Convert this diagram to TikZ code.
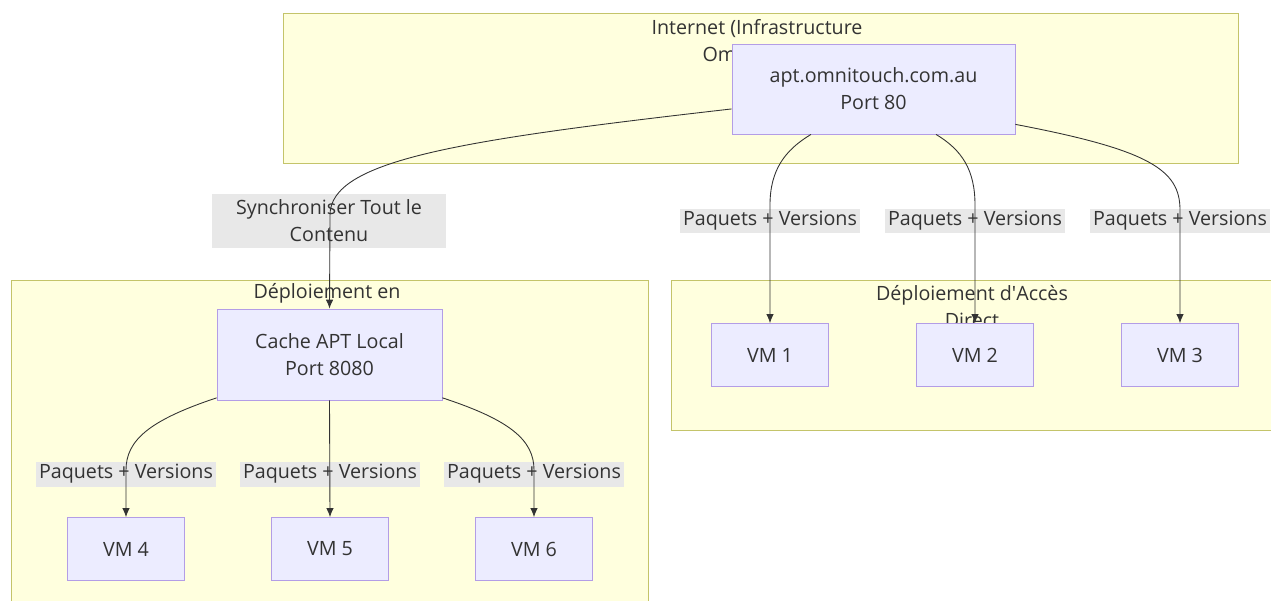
\documentclass[tikz,border=0pt]{standalone}
\usepackage{fontspec}
\setmainfont{Open Sans}
\usetikzlibrary{arrows.meta,positioning}
\tikzset{>={Latex[length=1.8mm,width=1.5mm]}}
\definecolor{clfill}{HTML}{FFFFDE}
\definecolor{clline}{HTML}{C4C46A}
\definecolor{ndfill}{HTML}{ECECFF}
\definecolor{ndline}{HTML}{B39DE6}
\definecolor{txt}{HTML}{333333}
\definecolor{lblfill}{HTML}{E8E8E8}

\begin{document}
\begin{tikzpicture}[x=0.02cm,y=-0.02cm,
    font=\fontsize{11.2}{15.4}\selectfont,text=txt,
    cluster/.style={draw=clline,fill=clfill,line width=0.5pt},
    box/.style={draw=ndline,fill=ndfill,align=center,line width=0.5pt},
    vm/.style={box,minimum width=2.34cm,minimum height=1.26cm},
    lbl/.style={fill=lblfill,inner sep=1.5pt,minimum height=0.5cm,align=center},
    edge/.style={->,draw=txt,line width=0.5pt}]
    \useasboundingbox (0,0) rectangle (1271,601);
    % groups
    \draw [cluster] (283,13) rectangle (1238,163);
    \draw [cluster] (11,280) rectangle (648,615);
    \draw [cluster] (671,280) rectangle (1290,430);
    \node (tnet) at (757,42) [align=center] {Internet (Infrastructure\\Omnitouch)};
    \node (tcache) at (327,293) {Déploiement en};
    \node (tdirect) at (972,307) [align=center] {Déploiement d\textquotesingle Accès\\Direct};
    % edge labels
    \node (lsync) at (329,221) [lbl,minimum width=4.68cm,minimum height=1.1cm] {Synchroniser Tout le\\Contenu};
    \node (l1) at (770,221) [lbl] {Paquets + Versions};
    \node (l2) at (975,221) [lbl] {Paquets + Versions};
    \node (l3) at (1180,221) [lbl] {Paquets + Versions};
    \node (l4) at (126,474) [lbl] {Paquets + Versions};
    \node (l5) at (330,474) [lbl] {Paquets + Versions};
    \node (l6) at (534,474) [lbl] {Paquets + Versions};
    % servers
    \node (apt) at (873.5,89) [box,minimum width=5.66cm,minimum height=1.8cm] {apt.omnitouch.com.au\\Port 80};
    \node (cache) at (329.5,354.5) [box,minimum width=4.5cm,minimum height=1.82cm] {Cache APT Local\\Port 8080};
    \node (vm1) at (770,355) [vm] {VM 1};
    \node (vm2) at (975,355) [vm] {VM 2};
    \node (vm3) at (1180,355) [vm] {VM 3};
    \node (vm4) at (126,549) [vm] {VM 4};
    \node (vm5) at (330,549) [vm] {VM 5};
    \node (vm6) at (534,549) [vm] {VM 6};
    % links
    \draw [edge] (apt.188) .. controls (460,140) and (330,160) .. (330,215) -- (cache.north);
    \draw [edge] (apt.216) .. controls (785,150) and (770,170) .. (770,205) -- (vm1.north);
    \draw [edge] (apt.324) .. controls (962,150) and (975,170) .. (975,205) -- (vm2.north);
    \draw [edge] (apt.346) .. controls (1150,150) and (1180,170) .. (1180,210) -- (vm3.north);
    \draw [edge] (cache.201) .. controls (150,420) and (126,440) .. (126,470) -- (vm4.north);
    \draw [edge] (cache.south) -- (vm5.north);
    \draw [edge] (cache.339) .. controls (510,420) and (534,440) .. (534,470) -- (vm6.north);
\end{tikzpicture}
\end{document}
